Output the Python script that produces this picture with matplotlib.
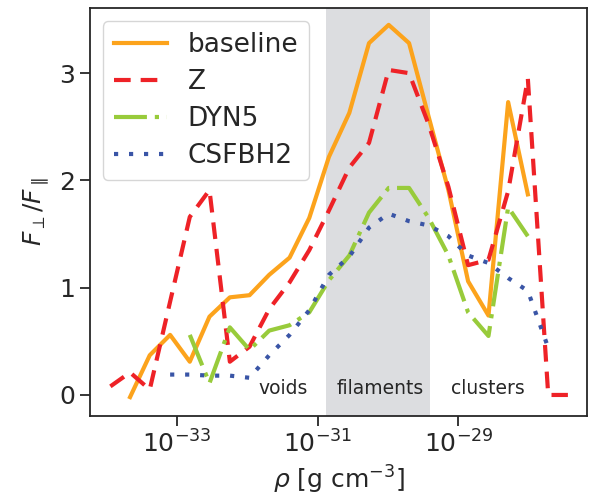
import numpy as np
import matplotlib
matplotlib.use('Agg')
import matplotlib.pyplot as plt
from matplotlib.ticker import NullLocator, FixedLocator

# log10 of density at the bin centres
log_rho = [-33.95, -33.67, -33.39, -33.10, -32.82, -32.54, -32.25, -31.97,
           -31.69, -31.40, -31.12, -30.84, -30.55, -30.27, -29.99, -29.70,
           -29.42, -29.14, -28.86, -28.57, -28.29, -28.01, -27.72, -27.44]
nan = np.nan

baseline = [nan, -0.02, 0.37, 0.56, 0.31, 0.73, 0.91, 0.93, 1.12, 1.28, 1.65,
            2.22, 2.63, 3.28, 3.45, 3.28, 2.59, 1.91, 1.06, 0.74, 2.73, 1.87,
            nan, nan]
z_run = [0.08, 0.21, 0.05, 0.87, 1.66, 1.91, 0.31, 0.45, 0.80, 1.05, 1.35,
         1.72, 2.12, 2.35, 3.03, 3.00, 2.52, 1.94, 1.21, 1.26, 1.90, 2.95,
         0.0, 0.0]
dyn5 = [nan, nan, nan, nan, 0.56, 0.11, 0.63, 0.42, 0.60, 0.65, 0.77, 1.07,
        1.30, 1.70, 1.93, 1.93, 1.65, 1.30, 0.77, 0.55, 1.75, 1.48, nan, nan]
csfbh2 = [nan, nan, nan, 0.19, 0.19, 0.18, 0.18, 0.16, 0.37, 0.56, 0.79, 1.12,
          1.29, 1.56, 1.69, 1.62, 1.58, 1.48, 1.30, 1.23, 1.09, 0.97, 0.44, nan]

rho = 10.0 ** np.array(log_rho)
series = ["baseline", "Z", "DYN5", "CSFBH2"]
values = [baseline, z_run, dyn5, csfbh2]
colours = ["#fca31c", "#ee2227", "#98cb3b", "#3a55a6"]
dashes = [None, (4.0, 2.4), (7.9, 1.9, 1.0, 1.9), (1.0, 2.6)]

filament_lo, filament_hi = 1.33e-31, 3.9e-30
region_names = ["voids", "filaments", "clusters"]
region_x = [3.2e-32, 7.8e-31, 2.6e-29]

plt.rcParams['font.family'] = 'DejaVu Sans'
fig = plt.figure(figsize=(5.9, 5.03), dpi=100)
ax = fig.add_axes([0.1525, 0.173, 0.8425, 0.811])

ax.axvspan(filament_lo, filament_hi, color="#dcdde0", lw=0, zorder=0)

for name, vals, col, ds in zip(series, values, colours, dashes):
    kw = dict(color=col, lw=3, label=name)
    if ds is not None:
        kw['dashes'] = ds
    ax.plot(rho, vals, **kw)

for txt, xx in zip(region_names, region_x):
    ax.text(xx, 0.06, txt, ha='center', va='center', fontsize=13.5, color='#262626')

ax.set_xscale('log')
ax.set_xlim(5.75e-35, 6.8e-28)
ax.set_ylim(-0.196, 3.607)
ax.xaxis.set_major_locator(FixedLocator([1e-33, 1e-31, 1e-29]))
ax.xaxis.set_minor_locator(NullLocator())
ax.set_yticks([0, 1, 2, 3])
ax.tick_params(labelsize=18, length=7, width=1.3, colors='#262626')
for sp in ax.spines.values():
    sp.set_linewidth(1.3)
    sp.set_color('#262626')

ax.set_xlabel(r'$\rho$ [g cm$^{-3}$]', fontsize=18, color='#262626')
ax.set_ylabel(r'$F_\perp/F_\parallel$', fontsize=18, color='#262626', labelpad=6)

leg = ax.legend(loc='upper left', fontsize=19, handlelength=2.0,
                borderaxespad=0.5, labelspacing=0.42)
for t in leg.get_texts():
    t.set_color('#262626')

fig.savefig('out.png', dpi=100)
